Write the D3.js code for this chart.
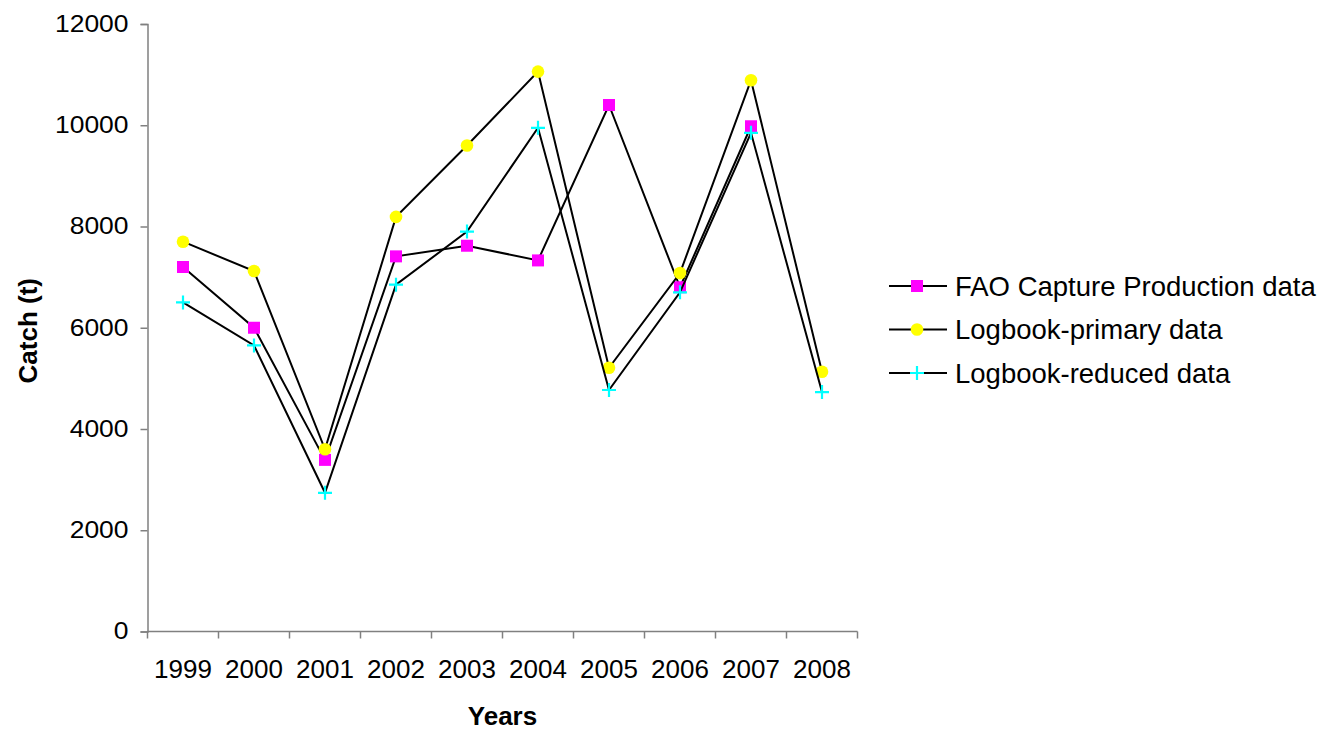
<!DOCTYPE html>
<html>
<head>
<meta charset="utf-8">
<script src="https://cdn.jsdelivr.net/npm/d3@7"></script>
<style>
  html, body { margin: 0; padding: 0; background: #fff; }
  svg { display: block; font-family: "Liberation Sans", Arial, Helvetica, sans-serif; }
</style>
</head>
<body>
<svg id="chart" width="1331" height="731"></svg>
<script>
// Annual catch (t) by data source
const years = ["1999", "2000", "2001", "2002", "2003", "2004", "2005", "2006", "2007", "2008"];
const faoCapture = [7200, 6000, 3390, 7410, 7620, 7330, 10400, 6800, 9980, null];
const logbookPrimary = [7700, 7120, 3600, 8190, 9600, 11060, 5210, 7080, 10890, 5130];
const logbookReduced = [6500, 5650, 2740, 6850, 7900, 9950, 4770, 6700, 9850, 4730];
const yTicks = [0, 2000, 4000, 6000, 8000, 10000, 12000];
const seriesNames = ["FAO Capture Production data", "Logbook-primary data", "Logbook-reduced data"];

const series = [
  { name: seriesNames[0], values: faoCapture, marker: "square", color: "#ff00ff" },
  { name: seriesNames[1], values: logbookPrimary, marker: "circle", color: "#ffff00" },
  { name: seriesNames[2], values: logbookReduced, marker: "plus", color: "#00ffff" }
];

const svg = d3.select("#chart");
const plot = { left: 147.5, right: 857.5, top: 24, bottom: 631.5 };

const x = d3.scaleBand().domain(years).range([plot.left, plot.right]);
const y = d3.scaleLinear().domain([0, 12000]).range([plot.bottom, plot.top]);
const cx = d => x(d) + x.bandwidth() / 2;

const axisColor = "#808080";
const fontSize = 26;

// Y axis; tick labels are slightly wide-set
const yStretch = 1.15;
const yAxis = svg.append("g")
  .attr("transform", `translate(${plot.left},0)`)
  .call(d3.axisLeft(y).tickValues(yTicks).tickSize(7).tickPadding(12).tickFormat(d3.format("d")));
yAxis.select(".domain").attr("stroke", axisColor).attr("stroke-width", 1.5);
yAxis.selectAll(".tick line").attr("stroke", axisColor).attr("stroke-width", 1.5);
yAxis.selectAll(".tick text")
  .attr("font-size", 23)
  .attr("fill", "#000")
  .attr("font-family", "Liberation Sans, Arial, sans-serif")
  .attr("x", -19 / yStretch)
  .attr("transform", `scale(${yStretch},1)`);

// X axis with ticks on category boundaries
const xAxisG = svg.append("g").attr("transform", `translate(0,${plot.bottom})`);
xAxisG.append("line")
  .attr("x1", plot.left).attr("x2", plot.right)
  .attr("stroke", axisColor).attr("stroke-width", 1.5);
const boundaries = years.map(d => x(d)).concat([plot.right]);
xAxisG.selectAll("line.tick")
  .data(boundaries)
  .join("line")
  .attr("class", "tick")
  .attr("x1", d => d).attr("x2", d => d)
  .attr("y1", 0).attr("y2", 7)
  .attr("stroke", axisColor).attr("stroke-width", 1.5);
xAxisG.selectAll("text")
  .data(years)
  .join("text")
  .attr("x", d => cx(d))
  .attr("y", 46)
  .attr("text-anchor", "middle")
  .attr("font-size", fontSize)
  .text(d => d);

// Axis titles
svg.append("text")
  .attr("x", (plot.left + plot.right) / 2)
  .attr("y", 725)
  .attr("text-anchor", "middle")
  .attr("font-size", fontSize)
  .attr("font-weight", "bold")
  .text("Years");
svg.append("text")
  .attr("transform", `translate(37,${(plot.top + plot.bottom) / 2 + 3}) rotate(-90)`)
  .attr("text-anchor", "middle")
  .attr("font-size", fontSize)
  .attr("font-weight", "bold")
  .text("Catch (t)");

// Marker drawing
function drawMarker(g, type, color) {
  if (type === "square") {
    g.append("rect").attr("x", -6).attr("y", -6).attr("width", 12).attr("height", 12)
      .attr("fill", color);
  } else if (type === "circle") {
    g.append("circle").attr("r", 6.3).attr("fill", color);
  } else {
    g.append("path").attr("d", "M-7,0H7M0,-7V7")
      .attr("stroke", color).attr("stroke-width", 2.2).attr("fill", "none");
  }
}

const line = d3.line()
  .defined(d => d.v !== null)
  .x(d => cx(d.year))
  .y(d => y(d.v));

series.forEach(s => {
  const pts = years.map((yr, i) => ({ year: yr, v: s.values[i] }));
  const g = svg.append("g");
  g.append("path")
    .datum(pts)
    .attr("d", line)
    .attr("fill", "none")
    .attr("stroke", "#000")
    .attr("stroke-width", 2);
  pts.filter(p => p.v !== null).forEach(p => {
    const m = g.append("g").attr("transform", `translate(${cx(p.year)},${y(p.v)})`);
    drawMarker(m, s.marker, s.color);
  });
});

// Legend
const legend = svg.append("g");
const legendRows = [286, 329.5, 373];
series.forEach((s, i) => {
  const row = legend.append("g").attr("transform", `translate(0,${legendRows[i]})`);
  row.append("line").attr("x1", 889).attr("x2", 947).attr("y1", 0).attr("y2", 0)
    .attr("stroke", "#000").attr("stroke-width", 2);
  const m = row.append("g").attr("transform", "translate(917,0)");
  drawMarker(m, s.marker, s.color);
  row.append("text")
    .attr("x", 955)
    .attr("y", 9.5)
    .attr("font-size", 27.5)
    .text(s.name);
});
</script>
</body>
</html>
